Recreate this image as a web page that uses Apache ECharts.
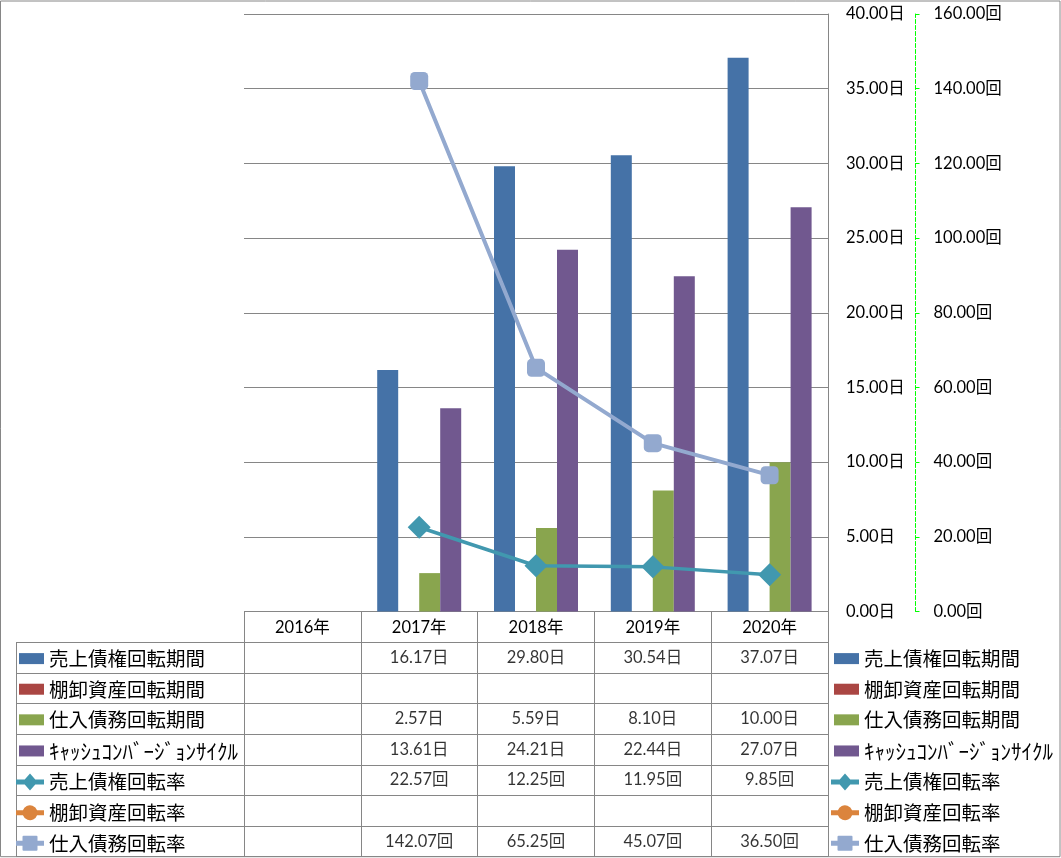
<!DOCTYPE html>
<html><head><meta charset="utf-8">
<script src="https://cdn.jsdelivr.net/npm/echarts@6/dist/echarts.min.js"></script>
<style>html,body{margin:0;padding:0;background:#fff}#c{width:1061px;height:858px}</style>
</head><body><div id="c"></div>
<script>
// ---- data ----
const categories = ['2016年', '2017年', '2018年', '2019年', '2020年'];
const seriesNames = ['売上債権回転期間', '棚卸資産回転期間', '仕入債務回転期間', 'ｷｬｯｼｭｺﾝﾊﾞｰｼﾞｮﾝｻｲｸﾙ', '売上債権回転率', '棚卸資産回転率', '仕入債務回転率'];
const arDays  = [null, 16.17, 29.80, 30.54, 37.07];
const invDays = [null, null, null, null, null];
const apDays  = [null, 2.57, 5.59, 8.10, 10.00];
const cccDays = [null, 13.61, 24.21, 22.44, 27.07];
const arTurn  = [null, 22.57, 12.25, 11.95, 9.85];
const invTurn = [null, null, null, null, null];
const apTurn  = [null, 142.07, 65.25, 45.07, 36.50];
const dayAxis  = { min: 0, max: 40, interval: 5, unit: '日' };
const turnAxis = { min: 0, max: 160, interval: 20, unit: '回' };

// ---- styling ----
const colors = ['#4572A7', '#AA4643', '#89A54E', '#71588F', '#4198AF', '#DB843D', '#93A9CF'];
const gridGray = '#868686';
const numFont = 'Lato, "Noto Sans CJK JP"';
const jpFont = '"Noto Sans CJK JP"';

// legend key shapes (28 x 17 box, corner points keep the box)
const box = 'M0,0L0,0M28,17L28,17';
const iconBar = 'path://' + box + 'M3,3L28,3L28,14L3,14Z';
const iconDiamond = 'path://' + box + 'M0,6L8.71,6L14,0L19.29,6L28,6L28,11L19.29,11L14,17L8.71,11L0,11Z';
const iconCircle = 'path://' + box + 'M0,6L6.93,6A7.5,7.5 0 0 1 21.07,6L28,6L28,11L21.07,11A7.5,7.5 0 0 1 6.93,11L0,11Z';
const iconSquare = 'path://' + box + 'M0,6L6.5,6L6.5,2Q6.5,1 7.5,1L20.5,1Q21.5,1 21.5,2L21.5,6L28,6L28,11L21.5,11L21.5,15Q21.5,16 20.5,16L7.5,16Q6.5,16 6.5,15L6.5,11L0,11Z';

const rows = [
  { data: arDays,  unit: '日', kind: 'bar', icon: iconBar },
  { data: invDays, unit: '日', kind: 'bar', icon: iconBar },
  { data: apDays,  unit: '日', kind: 'bar', icon: iconBar },
  { data: cccDays, unit: '日', kind: 'bar', icon: iconBar },
  { data: arTurn,  unit: '回', kind: 'line', symbol: 'diamond', size: 23, width: 3.5, icon: iconDiamond },
  { data: invTurn, unit: '回', kind: 'line', symbol: 'circle', size: 18, width: 3.5, icon: iconCircle },
  { data: apTurn,  unit: '回', kind: 'line', symbol: 'roundRect', size: 18, width: 4, icon: iconSquare }
];

const series = rows.map((r, i) => {
  const vals = r.data.map(v => v == null ? '-' : v);
  if (r.kind === 'bar') {
    return { name: seriesNames[i], type: 'bar', xAxisIndex: 0, yAxisIndex: 0, data: vals,
      barWidth: 21, barGap: '0%', itemStyle: { color: colors[i] } };
  }
  return { name: seriesNames[i], type: 'line', xAxisIndex: 0, yAxisIndex: 1, data: vals,
    symbol: r.symbol, symbolSize: r.size, z: 5,
    lineStyle: { width: r.width, color: colors[i] }, itemStyle: { color: colors[i] } };
});

// table cells
const cells = [];
rows.forEach((r, ri) => r.data.forEach((v, ci) => {
  if (v != null) cells.push({ value: [ci, ri + 1], txt: v.toFixed(2) + r.unit });
}));
series.push({
  type: 'scatter', xAxisIndex: 1, yAxisIndex: 2, data: cells, symbolSize: 1,
  itemStyle: { color: 'rgba(0,0,0,0)' }, silent: true, z: 6,
  label: { show: true, position: 'inside', formatter: p => p.data.txt,
    fontFamily: numFont, fontSize: 16.5, color: '#000' }
});

const rowIds = ['h', '1', '2', '3', '4', '5', '6', '7'];
const legendData = seriesNames.map((n, i) => ({ name: n, icon: rows[i].icon }));
const legendCommon = {
  orient: 'vertical', itemWidth: 28, itemHeight: 17, itemGap: 10.62, padding: 0,
  selectedMode: false, data: legendData, symbolKeepAspect: false,
  formatter: n => n === seriesNames[3] ? '{k|' + n + '}' : n,
  textStyle: { fontFamily: jpFont, fontSize: 19.5, color: '#000', lineHeight: 20,
    rich: { k: { fontFamily: jpFont, fontSize: 21, lineHeight: 20 } } }
};

const option = {
  animation: false,
  backgroundColor: '#fff',
  graphic: [{ type: 'rect', silent: true, z: -1,
    shape: { x: 0.5, y: 1, width: 1059.5, height: 855.7 },
    style: { fill: 'none', stroke: gridGray, lineWidth: 1 } }],
  legend: [
    Object.assign({ left: 16, top: 648.6 }, legendCommon),
    Object.assign({ left: 831, top: 648.6 }, legendCommon)
  ],
  grid: [
    { left: 244, right: 233, top: 14, bottom: 246.5 },
    { left: 244, right: 233, top: 611.5, height: 245.2 },
    { left: 16, width: 228, top: 642.15, height: 214.55 }
  ],
  xAxis: [
    { type: 'category', gridIndex: 0, data: categories,
      axisLine: { show: false }, axisTick: { show: false },
      axisLabel: { margin: 8, fontFamily: numFont, fontSize: 16.5, color: '#000', interval: 0 } },
    { type: 'category', gridIndex: 1, data: categories,
      axisLine: { show: false }, axisTick: { show: false }, axisLabel: { show: false },
      splitLine: { show: true, interval: 0, lineStyle: { color: gridGray } } },
    { type: 'category', gridIndex: 2, data: [''],
      axisLine: { show: false }, axisTick: { show: false }, axisLabel: { show: false },
      splitLine: { show: true, interval: 0, lineStyle: { color: gridGray } } }
  ],
  yAxis: [
    { type: 'value', gridIndex: 0, position: 'right', min: dayAxis.min, max: dayAxis.max, interval: dayAxis.interval,
      axisLine: { show: true, lineStyle: { color: gridGray } }, axisTick: { show: false },
      splitLine: { show: true, lineStyle: { color: gridGray } },
      axisLabel: { margin: 18, fontFamily: numFont, fontSize: 16.5, color: '#000',
        formatter: v => v.toFixed(2) + dayAxis.unit } },
    { type: 'value', gridIndex: 0, position: 'right', offset: 87.5, min: turnAxis.min, max: turnAxis.max, interval: turnAxis.interval,
      axisLine: { show: true, lineStyle: { color: '#00FF00', type: 'dashed' } },
      axisTick: { show: true, length: 4, lineStyle: { color: '#00FF00' } },
      splitLine: { show: false },
      axisLabel: { margin: 18, fontFamily: numFont, fontSize: 16.5, color: '#000',
        formatter: v => v.toFixed(2) + turnAxis.unit } },
    { type: 'category', gridIndex: 1, data: rowIds, inverse: true,
      axisLine: { show: false }, axisTick: { show: false }, axisLabel: { show: false },
      splitLine: { show: true, interval: 0, lineStyle: { color: gridGray } } },
    { type: 'category', gridIndex: 2, data: rowIds.slice(1), inverse: true,
      axisLine: { show: false }, axisTick: { show: false }, axisLabel: { show: false },
      splitLine: { show: true, interval: 0, lineStyle: { color: gridGray } } }
  ],
  series: series
};

const chart = echarts.init(document.getElementById('c'), null, { renderer: 'canvas' });
chart.setOption(option);
</script>
</body></html>
